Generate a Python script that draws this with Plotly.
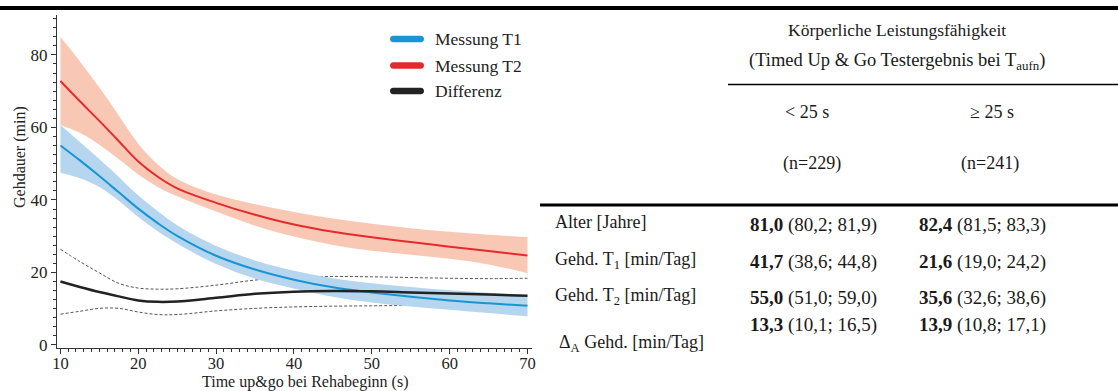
import plotly.graph_objects as go

# ---- data -------------------------------------------------------------
tug = [10, 12.5, 15, 17.5, 20, 22.5, 25, 30, 35, 40, 45, 50, 55, 60, 65, 70]

t1_mean = [55.0, 50.9, 46.6, 42.1, 37.6, 33.6, 30.1, 24.6, 20.8, 18.0, 15.9, 14.5, 13.3, 12.3, 11.5, 10.8]
t1_upper = [60.7, 56.0, 51.3, 46.3, 41.2, 36.9, 33.0, 27.3, 23.3, 20.5, 18.4, 17.0, 16.0, 15.1, 14.4, 13.7]
t1_lower = [47.5, 46.0, 43.6, 39.8, 35.3, 31.4, 28.0, 22.3, 18.3, 15.6, 13.3, 11.7, 10.6, 9.7, 8.8, 7.9]

t2_mean = [72.8, 67.2, 61.8, 56.2, 50.6, 46.4, 43.2, 39.2, 35.9, 33.2, 31.2, 29.7, 28.4, 27.1, 25.9, 24.7]
t2_upper = [84.9, 78.2, 71.0, 63.3, 55.5, 49.8, 45.8, 41.5, 38.8, 36.7, 34.9, 33.4, 32.2, 31.2, 30.4, 29.8]
t2_lower = [60.7, 58.5, 55.2, 51.2, 47.0, 43.6, 41.0, 36.8, 32.9, 29.9, 27.6, 26.0, 24.9, 23.8, 22.2, 19.8]

diff_mean = [17.5, 16.0, 14.6, 13.4, 12.3, 11.9, 12.0, 13.0, 14.1, 14.7, 14.9, 14.8, 14.5, 14.2, 13.9, 13.6]
diff_upper = [26.4, 23.0, 19.9, 17.0, 15.7, 15.4, 15.5, 16.5, 17.9, 18.7, 18.9, 18.8, 18.6, 18.4, 18.3, 18.4]
diff_lower = [8.5, 9.3, 10.1, 10.1, 9.1, 8.4, 8.4, 9.4, 10.1, 10.5, 10.7, 10.8, 10.9, 10.9, 11.0, 11.0]

legend_names = ["Messung T1", "Messung T2", "Differenz"]

# table content
table_title = ["Körperliche Leistungsfähigkeit",
               "(Timed Up &amp; Go Testergebnis bei T<sub>aufn</sub>)"]
groups = ["&lt; 25 s", "≥ 25 s"]
group_n = ["(n=229)", "(n=241)"]
row_labels = ["Alter [Jahre]", "Gehd. T<sub>1</sub> [min/Tag]",
              "Gehd. T<sub>2</sub> [min/Tag]", "Δ<sub>A</sub> Gehd. [min/Tag]"]
col_lt25 = [("81,0", "(80,2; 81,9)"), ("41,7", "(38,6; 44,8)"),
            ("55,0", "(51,0; 59,0)"), ("13,3", "(10,1; 16,5)")]
col_ge25 = [("82,4", "(81,5; 83,3)"), ("21,6", "(19,0; 24,2)"),
            ("35,6", "(32,6; 38,6)"), ("13,9", "(10,8; 17,1)")]

# ---- style ------------------------------------------------------------
FONT = '"Liberation Serif", "Times New Roman", serif'
BLUE, BLUE_BAND = "#1796d2", "#b5d6ee"
RED, RED_BAND = "#e52a2d", "#f9c8b5"
BLACK = "#222222"

W, H = 1118, 391
L, R, T, B = 57, 586, 15, 43
PW, PH = W - L - R, H - T - B


def fx(px):
    return (px - L) / PW


def fy(py):
    return (H - B - py) / PH


fig = go.Figure()

# confidence limits of the difference (under the bands)
for band in (diff_upper, diff_lower):
    fig.add_trace(go.Scatter(x=tug, y=band, mode="lines",
                             line=dict(color="#555555", width=1, dash="3px,2px",
                                       shape="spline", smoothing=1.0),
                             hoverinfo="skip", showlegend=False))

# shaded confidence bands
for lo, hi, col in ((t1_lower, t1_upper, BLUE_BAND), (t2_lower, t2_upper, RED_BAND)):
    fig.add_trace(go.Scatter(x=tug, y=lo, mode="lines",
                             line=dict(width=0, shape="spline", smoothing=1.0),
                             hoverinfo="skip", showlegend=False))
    fig.add_trace(go.Scatter(x=tug, y=hi, mode="lines", fill="tonexty", fillcolor=col,
                             line=dict(width=0, shape="spline", smoothing=1.0),
                             hoverinfo="skip", showlegend=False))

# mean curves
for ys, col, wd, name in ((t1_mean, BLUE, 2, legend_names[0]),
                          (t2_mean, RED, 2, legend_names[1]),
                          (diff_mean, BLACK, 2.5, legend_names[2])):
    fig.add_trace(go.Scatter(x=tug, y=ys, mode="lines", name=name,
                             line=dict(color=col, width=wd, shape="spline", smoothing=1.0),
                             showlegend=False))

shapes = []
annotations = []

# hand-drawn legend with rounded swatches
leg_cols = [BLUE, RED, BLACK]
leg_y = [39, 65.5, 91]
x0p, x1p, r = 390, 424, 3.2
for name, col, cy in zip(legend_names, leg_cols, leg_y):
    k = 1.33 * r
    pts = [
        ("M", [(x0p + r, cy - r)]),
        ("L", [(x1p - r, cy - r)]),
        ("C", [(x1p - r + k, cy - r), (x1p - r + k, cy + r), (x1p - r, cy + r)]),
        ("L", [(x0p + r, cy + r)]),
        ("C", [(x0p + r - k, cy + r), (x0p + r - k, cy - r), (x0p + r, cy - r)]),
    ]
    path = ""
    for cmd, coords in pts:
        path += cmd + " ".join(f"{fx(a):.5f},{fy(b):.5f}" for a, b in coords) + " "
    path += "Z"
    shapes.append(dict(type="path", xref="paper", yref="paper", path=path,
                       fillcolor=col, line=dict(width=0)))
    annotations.append(dict(x=fx(433), y=fy(cy), xref="paper", yref="paper",
                            text=name, showarrow=False, xanchor="left", yanchor="middle",
                            font=dict(family=FONT, size=17.5, color="#222")))

# axis titles
annotations.append(dict(x=fx(20), y=fy(157), xref="paper", yref="paper",
                        text="Gehdauer (min)", textangle=-90, showarrow=False,
                        xanchor="center", yanchor="middle",
                        font=dict(family=FONT, size=16, color="#222")))
annotations.append(dict(x=fx(305), y=fy(382), xref="paper", yref="paper",
                        text="Time up&amp;go bei Rehabeginn (s)", showarrow=False,
                        xanchor="center", yanchor="middle",
                        font=dict(family=FONT, size=16, color="#222")))

# rules
shapes.append(dict(type="line", xref="paper", yref="paper",
                   x0=fx(0), x1=fx(W), y0=fy(8), y1=fy(8),
                   line=dict(color="black", width=4)))
shapes.append(dict(type="line", xref="paper", yref="paper",
                   x0=fx(728), x1=fx(W), y0=fy(84.5), y1=fy(84.5),
                   line=dict(color="black", width=1.6)))
shapes.append(dict(type="line", xref="paper", yref="paper",
                   x0=fx(540), x1=fx(W), y0=fy(205), y1=fy(205),
                   line=dict(color="black", width=3)))


def txt(x, y, s, anchor="center", size=18):
    annotations.append(dict(x=fx(x), y=fy(y), xref="paper", yref="paper", text=s,
                            showarrow=False, xanchor=anchor, yanchor="middle",
                            font=dict(family=FONT, size=size, color="#1a1a1a")))


txt(897, 30, table_title[0], size=17.5)
txt(897, 61, table_title[1], size=18.5)
for cx, g in zip((807, 992), groups):
    txt(cx, 112, g)
for cx, n in zip((812, 990), group_n):
    txt(cx, 163, n)

label_y = [222, 260, 296, 343]
value_y = [225, 262, 298, 325]
label_x = [553, 553, 553, 557]
for lab, lx, ly in zip(row_labels, label_x, label_y):
    txt(lx, ly, lab, anchor="left")
for (b1, ci1), (b2, ci2), vy in zip(col_lt25, col_ge25, value_y):
    txt(748, vy, f"<b>{b1}</b> {ci1}", anchor="left", size=19)
    txt(917, vy, f"<b>{b2}</b> {ci2}", anchor="left", size=19)

AX = "#333333"
fig.update_layout(
    width=W, height=H,
    margin=dict(l=L, r=R, t=T, b=B, pad=0),
    paper_bgcolor="white", plot_bgcolor="white",
    showlegend=False,
    font=dict(family=FONT, color="#222"),
    shapes=shapes, annotations=annotations,
    xaxis=dict(range=[9.56, 70.58], tick0=10, dtick=10, ticks="outside", ticklen=5,
               tickcolor=AX, showline=True, linecolor=AX, linewidth=1,
               showgrid=False, zeroline=False, ticklabelstandoff=-5,
               tickfont=dict(family=FONT, size=16.5, color="#222"),
               minor=dict(dtick=1, ticks="outside", ticklen=3, tickcolor=AX)),
    yaxis=dict(range=[-0.83, 91], tick0=0, dtick=20, ticks="outside", ticklen=5,
               tickcolor=AX, showline=True, linecolor=AX, linewidth=1,
               showgrid=False, zeroline=False,
               tickfont=dict(family=FONT, size=17, color="#222"),
               minor=dict(dtick=2.5, ticks="outside", ticklen=3, tickcolor=AX)),
)

fig.write_html("out.html")
